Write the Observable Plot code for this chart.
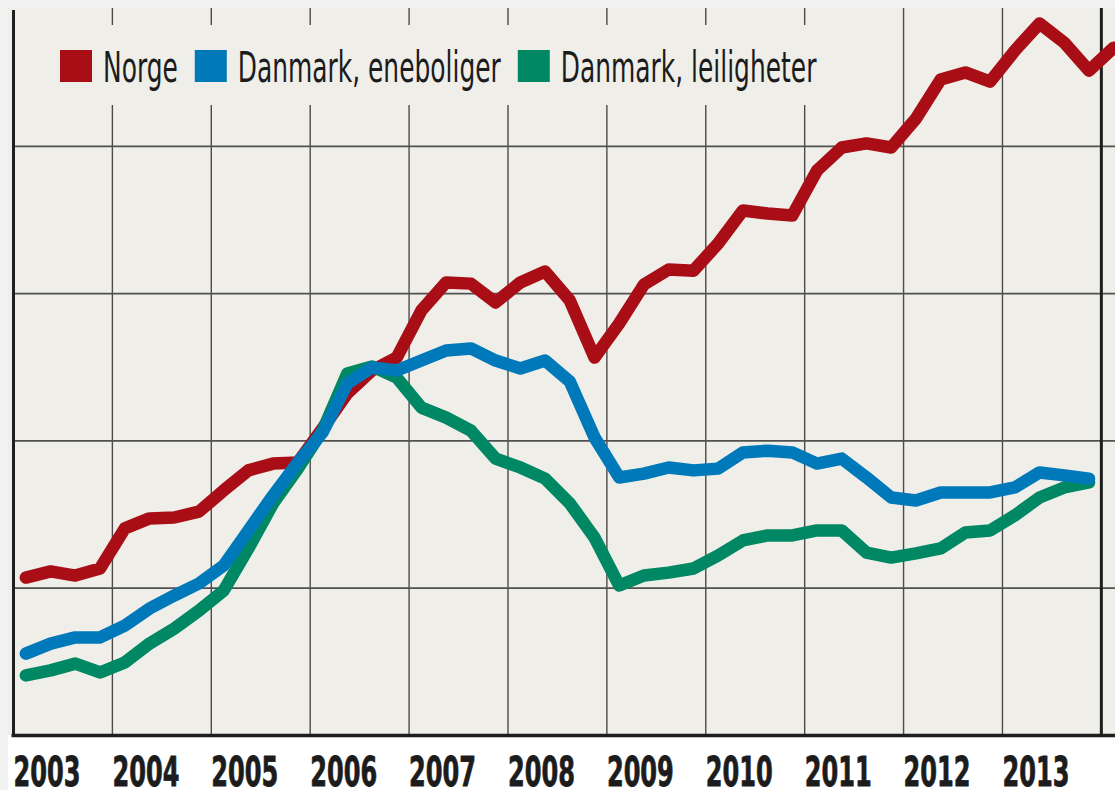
<!DOCTYPE html>
<html><head><meta charset="utf-8">
<script src="https://cdn.jsdelivr.net/npm/d3@7"></script>
<script src="https://cdn.jsdelivr.net/npm/@observablehq/plot@0.6"></script>
<style>
html,body{margin:0;padding:0;background:#ffffff;}
#chart{width:1115px;height:790px;position:relative;}
</style></head><body><div id="chart"></div>
<script>
// ---- data (quarterly index; first value = 2003 Q1) ----
const seriesNames = ["Norge", "Danmark, eneboliger", "Danmark, leiligheter"];
const norge = [53.6,55.7,54.3,56.7,70.3,73.7,74.0,76.0,83.2,90.0,92.3,92.7,
  104.2,116.1,123.9,128.3,144.3,153.8,153.4,147.0,153.8,157.5,147.7,128.3,
  139.9,153.1,158.2,157.8,167.0,178.2,177.2,176.5,191.8,199.6,201.0,199.6,
  209.4,222.7,225.1,222.0,232.5,241.7,235.2,225.7,233.5];
const danmarkEneboliger = [27.8,31.2,33.3,33.3,37.3,43.1,47.5,51.6,57.7,69.6,81.5,92.7,
  102.9,119.5,124.9,123.9,127.3,130.7,131.4,127.3,124.6,127.3,120.2,101.2,
  87.6,88.9,91.0,90.0,90.6,96.1,96.7,96.1,92.3,94.0,87.6,80.8,
  79.8,82.5,82.5,82.5,84.2,89.3,88.3,87.2];
const danmarkLeiligheter = [20.4,22.1,24.4,21.4,24.8,31.2,36.3,42.4,49.2,63.5,78.8,90.6,
  103.5,122.9,125.3,121.5,111.3,107.9,103.5,94.0,91.0,87.2,78.8,67.2,
  50.9,54.3,55.3,56.7,61.1,66.2,67.9,67.9,69.6,69.6,62.1,60.4,
  61.8,63.5,68.9,69.6,74.7,80.8,84.2,85.9];
const startYear = 2003;
const yearLabels = [2003,2004,2005,2006,2007,2008,2009,2010,2011,2012,2013];
const gridYears = [2004,2005,2006,2007,2008,2009,2010,2011,2012,2013];
const endYear = 2014;
const gridValues = [50,100,150,200];
const colors = ["#a90e17", "#0079ba", "#008763"];

// table: drawing order Norge, leiligheter, eneboliger (blue on top)
const rows = [];
const pushSeries = (name, arr) => arr.forEach((v, i) =>
  rows.push({series: name, t: startYear + (i + 0.5) / 4, v}));
pushSeries(seriesNames[0], norge);
pushSeries(seriesNames[2], danmarkLeiligheter);
pushSeries(seriesNames[1], danmarkEneboliger);

const W = 1115, H = 790;
const FONT = "'Liberation Sans Narrow','DejaVu Sans Condensed','Roboto','DejaVu Sans',sans-serif";

const chart = Plot.plot({
  width: W, height: H,
  marginLeft: 13, marginRight: 0, marginTop: 8, marginBottom: 55,
  style: {background: "transparent", overflow: "visible", fontFamily: FONT},
  x: {domain: [2003, 2014.143], axis: null},
  y: {domain: [0, 246.8], axis: null},
  color: {domain: seriesNames, range: colors},
  marks: [
    Plot.ruleX(gridYears, {stroke: "#4a4a4a", strokeWidth: 1.4}),
    Plot.ruleY(gridValues, {stroke: "#505050", strokeWidth: 1.8}),
    Plot.ruleX([endYear], {stroke: "#1e1e1e", strokeWidth: 3}),
    Plot.line(rows, {x: "t", y: "v", z: "series", stroke: "series",
      strokeWidth: 12.5, strokeLinejoin: "round", strokeLinecap: "round"}),
    Plot.ruleX([startYear], {stroke: "#1e1e1e", strokeWidth: 3, y1: 0, y2: 246.8, insetBottom: -2}),
    Plot.ruleY([0], {stroke: "#1e1e1e", strokeWidth: 3.5, x1: 2003, x2: 2014.143, insetLeft: -1.5}),
    Plot.text(yearLabels, {x: d => d, frameAnchor: "bottom", lineAnchor: "bottom", dy: 50,
      textAnchor: "start", text: d => String(d), fontSize: 41, fontWeight: "bold",
      fill: "#1c1c1c", stroke: "#1c1c1c", strokeWidth: 0.8, fontFamily: FONT})
  ]
});

document.getElementById("chart").appendChild(chart);
const svg = d3.select(chart);

// backgrounds (style only)
svg.insert("rect", ":first-child").attr("x", 8).attr("y", 8).attr("width", W - 8).attr("height", 727).attr("fill", "#efeee9");
svg.insert("rect", ":first-child").attr("x", 0).attr("y", 0).attr("width", W).attr("height", 8).attr("fill", "#f2f2f2");
svg.insert("rect", ":first-child").attr("x", 0).attr("y", 0).attr("width", 8).attr("height", H).attr("fill", "#f2f2f2");

// condense year labels
const yearTexts = svg.selectAll("text").nodes();
if (yearTexts.length) {
  const ref = yearTexts[0].getComputedTextLength();
  const k = 67 / ref;
  yearTexts.forEach(n => {
    const w = n.getComputedTextLength();
    n.setAttribute("textLength", (w * k).toFixed(1));
    n.setAttribute("lengthAdjust", "spacingAndGlyphs");
  });
}

// legend inside plot, with a gap in the gridlines behind it
const lg = svg.append("g").attr("text-anchor", "start");
lg.append("rect").attr("x", 15).attr("y", 25).attr("width", 830).attr("height", 80).attr("fill", "#efeee9");
let cx = 60;
const probe = lg.append("text").attr("font-size", 42).attr("font-family", FONT).text(seriesNames[1]);
const kL = 263 / probe.node().getComputedTextLength();
probe.remove();
seriesNames.forEach((name, i) => {
  lg.append("rect").attr("x", cx).attr("y", 50).attr("width", 32).attr("height", 32).attr("fill", colors[i]);
  const t = lg.append("text").attr("x", cx + 43).attr("y", 82).attr("font-size", 42)
    .attr("text-anchor", "start")
    .attr("font-family", FONT).attr("fill", "#1c1c1c").text(name);
  const w = t.node().getComputedTextLength() * kL;
  t.attr("textLength", w.toFixed(1)).attr("lengthAdjust", "spacingAndGlyphs");
  cx += 43 + w + 17;
});
</script></body></html>
